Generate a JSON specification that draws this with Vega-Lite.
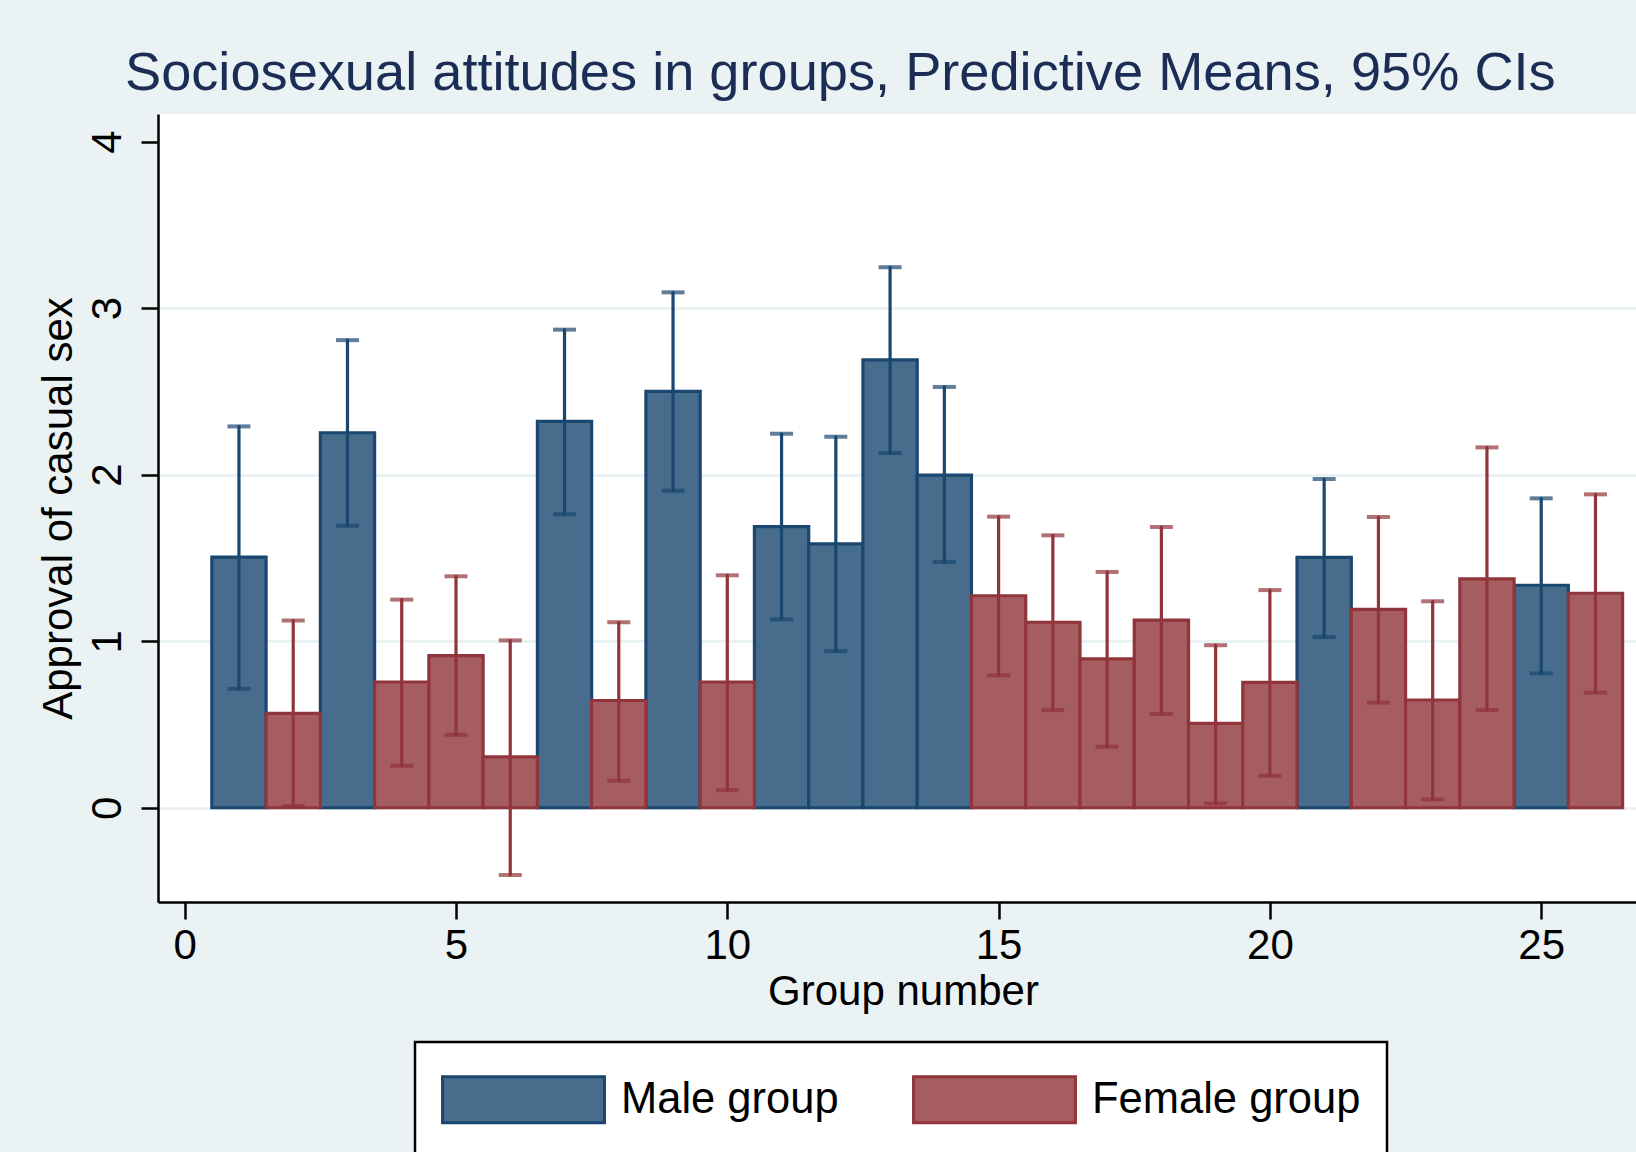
{
  "$schema": "https://vega.github.io/schema/vega-lite/v6.json",
  "width": 1478,
  "height": 788,
  "autosize": {"type": "none"},
  "padding": {"left": 158, "top": 114, "right": 0, "bottom": 250},
  "background": "#eaf2f3",
  "title": {
    "text": "Sociosexual attitudes in groups, Predictive Means, 95% CIs",
    "anchor": "start",
    "frame": "group",
    "dx": -33,
    "dy": 52,
    "offset": 22,
    "baseline": "alphabetic",
    "fontSize": 54.2,
    "font": "Liberation Sans",
    "fontWeight": "normal",
    "color": "#1c2d55"
  },
  "data": {
    "values": [
      {"group": 1, "sex": "Male group", "mean": 1.505, "lo": 0.714, "hi": 2.29},
      {"group": 3, "sex": "Male group", "mean": 2.252, "lo": 1.693, "hi": 2.808},
      {"group": 7, "sex": "Male group", "mean": 2.32, "lo": 1.762, "hi": 2.871},
      {"group": 9, "sex": "Male group", "mean": 2.5, "lo": 1.904, "hi": 3.095},
      {"group": 11, "sex": "Male group", "mean": 1.688, "lo": 1.131, "hi": 2.246},
      {"group": 12, "sex": "Male group", "mean": 1.584, "lo": 0.941, "hi": 2.228},
      {"group": 13, "sex": "Male group", "mean": 2.689, "lo": 2.13, "hi": 3.246},
      {"group": 14, "sex": "Male group", "mean": 1.998, "lo": 1.476, "hi": 2.527},
      {"group": 21, "sex": "Male group", "mean": 1.504, "lo": 1.025, "hi": 1.974},
      {"group": 25, "sex": "Male group", "mean": 1.336, "lo": 0.807, "hi": 1.858},
      {"group": 2, "sex": "Female group", "mean": 0.567, "lo": 0.01, "hi": 1.124},
      {"group": 4, "sex": "Female group", "mean": 0.755, "lo": 0.252, "hi": 1.25},
      {"group": 5, "sex": "Female group", "mean": 0.914, "lo": 0.438, "hi": 1.39},
      {"group": 6, "sex": "Female group", "mean": 0.306, "lo": -0.404, "hi": 1.005},
      {"group": 8, "sex": "Female group", "mean": 0.644, "lo": 0.162, "hi": 1.114},
      {"group": 10, "sex": "Female group", "mean": 0.755, "lo": 0.106, "hi": 1.396},
      {"group": 15, "sex": "Female group", "mean": 1.273, "lo": 0.795, "hi": 1.748},
      {"group": 16, "sex": "Female group", "mean": 1.114, "lo": 0.586, "hi": 1.636},
      {"group": 17, "sex": "Female group", "mean": 0.894, "lo": 0.366, "hi": 1.416},
      {"group": 18, "sex": "Female group", "mean": 1.127, "lo": 0.563, "hi": 1.686},
      {"group": 19, "sex": "Female group", "mean": 0.507, "lo": 0.026, "hi": 0.976},
      {"group": 20, "sex": "Female group", "mean": 0.753, "lo": 0.192, "hi": 1.307},
      {"group": 22, "sex": "Female group", "mean": 1.191, "lo": 0.631, "hi": 1.746},
      {"group": 23, "sex": "Female group", "mean": 0.647, "lo": 0.05, "hi": 1.24},
      {"group": 24, "sex": "Female group", "mean": 1.374, "lo": 0.587, "hi": 2.164},
      {"group": 26, "sex": "Female group", "mean": 1.288, "lo": 0.691, "hi": 1.882}
    ]
  },
  "config": {
    "font": "Liberation Sans",
    "view": {"fill": "white", "stroke": null},
    "axis": {
      "domainColor": "black",
      "domainWidth": 2.5,
      "tickColor": "black",
      "tickWidth": 2.5,
      "tickSize": 17,
      "labelFont": "Liberation Sans",
      "labelFontSize": 42,
      "labelColor": "black",
      "titleFont": "Liberation Sans",
      "titleFontSize": 42,
      "titleFontWeight": "normal",
      "titleColor": "black"
    },
    "legend": {
      "orient": "none",
      "legendX": 257,
      "legendY": 928,
      "direction": "horizontal",
      "columns": 2,
      "padding": 26,
      "fillColor": "white",
      "strokeColor": "black",
      "strokeWidth": 2.5,
      "titleFontSize": 4,
      "titlePadding": 3,
      "symbolType": "M-3.52,-1H3.52V1H-3.52Z",
      "symbolSize": 2116,
      "symbolOffset": 58,
      "symbolStrokeWidth": 3,
      "labelOffset": 73,
      "labelFont": "Liberation Sans",
      "labelFontSize": 43.5,
      "labelColor": "black",
      "labelLimit": 500,
      "columnPadding": 68
    }
  },
  "layer": [
    {
      "mark": {"type": "bar", "width": 54.26, "strokeWidth": 3.2, "opacity": 1},
      "encoding": {
        "x": {
          "field": "group", "type": "quantitative",
          "scale": {"domain": [-0.492, 26.747], "nice": false, "zero": false, "padding": 0},
          "title": "Group number",
          "axis": {
            "values": [0, 5, 10, 15, 20, 25],
            "format": "d",
            "grid": false,
            "labelBaseline": "alphabetic",
            "labelPadding": 39,
            "labelFlush": false,
            "titleBaseline": "alphabetic",
            "titleX": 745,
            "titleY": 102
          }
        },
        "y": {
          "field": "mean", "type": "quantitative",
          "scale": {"domain": [-0.566, 4.166], "nice": false, "padding": 0},
          "title": "Approval of casual sex",
          "axis": {
            "values": [0, 1, 2, 3, 4],
            "format": "d",
            "grid": true,
            "gridColor": "#eaf2f3",
            "gridWidth": 3,
            "gridOpacity": {"condition": {"test": "datum.value === 4", "value": 0}, "value": 1},
            "labelAngle": 270,
            "labelAlign": "center",
            "labelBaseline": "alphabetic",
            "labelPadding": 21,
            "labelFlush": false,
            "titleAngle": 270,
            "titleAlign": "center",
            "titleBaseline": "alphabetic",
            "titleX": -87,
            "titleY": 394
          }
        },
        "fill": {
          "field": "sex", "type": "nominal",
          "scale": {"domain": ["Male group", "Female group"], "range": ["#486c8c", "#a65d62"]},
          "legend": {"title": " "}
        },
        "stroke": {
          "field": "sex", "type": "nominal",
          "scale": {"domain": ["Male group", "Female group"], "range": ["#1a476f", "#90353b"]},
          "legend": {"title": " "}
        }
      }
    },
    {
      "mark": {"type": "rule", "strokeWidth": 3.2, "strokeCap": "round"},
      "encoding": {
        "x": {"field": "group", "type": "quantitative", "title": "Group number"},
        "y": {"field": "lo", "type": "quantitative", "title": "Approval of casual sex"},
        "y2": {"field": "hi"},
        "stroke": {"field": "sex", "type": "nominal", "legend": {"title": " "}}
      }
    },
    {
      "mark": {"type": "tick", "orient": "horizontal", "size": 23, "thickness": 4},
      "encoding": {
        "x": {"field": "group", "type": "quantitative", "title": "Group number"},
        "y": {"field": "hi", "type": "quantitative", "title": "Approval of casual sex"},
        "color": {
          "field": "sex", "type": "nominal",
          "scale": {"domain": ["Male group", "Female group"], "range": ["#1a476f", "#90353b"]},
          "legend": null
        }
      }
    },
    {
      "mark": {"type": "tick", "orient": "horizontal", "size": 23, "thickness": 4},
      "encoding": {
        "x": {"field": "group", "type": "quantitative", "title": "Group number"},
        "y": {"field": "lo", "type": "quantitative", "title": "Approval of casual sex"},
        "color": {"field": "sex", "type": "nominal", "legend": null}
      }
    }
  ]
}
